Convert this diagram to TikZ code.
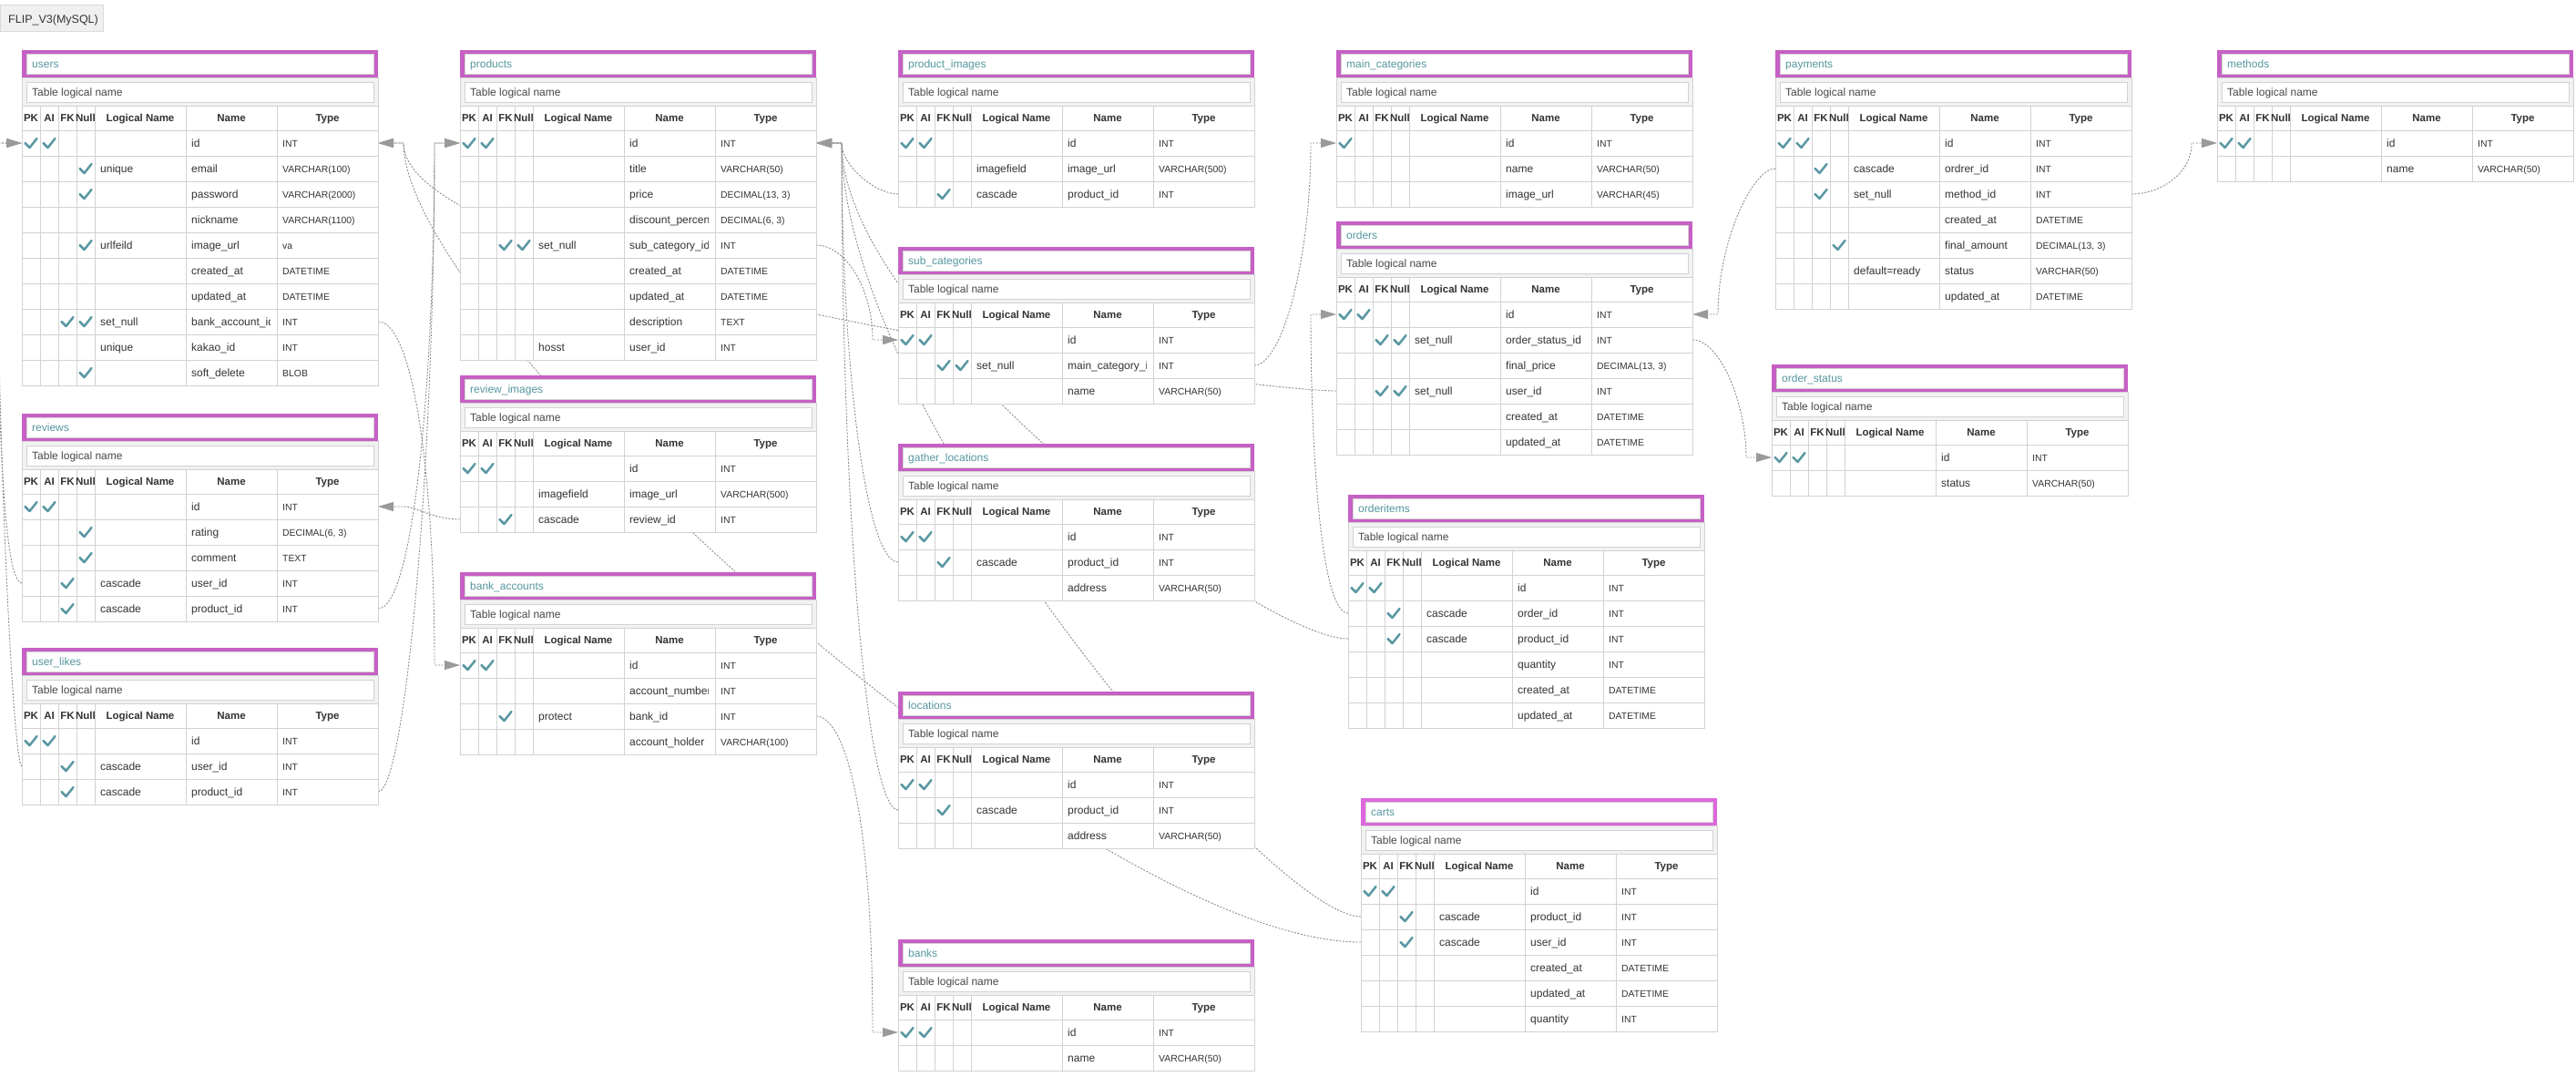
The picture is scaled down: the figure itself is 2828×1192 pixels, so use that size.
\documentclass[tikz,border=0pt]{standalone}
\usepackage{fontspec}
\setmainfont{Liberation Sans}
\usetikzlibrary{arrows.meta,backgrounds}
\definecolor{headpurple}{HTML}{C660C4}
\definecolor{cartpurple}{HTML}{DC68DC}
\definecolor{titleteal}{HTML}{5596A0}
\definecolor{tickteal}{HTML}{5A98A3}
\definecolor{gridgray}{HTML}{D2D2D2}
\definecolor{bandgray}{HTML}{F2F2F2}
\definecolor{inkgray}{HTML}{333333}
\definecolor{linkgray}{HTML}{8C8C8C}
\definecolor{tipgray}{HTML}{9A9A9A}
\tikzset{gridline/.style={draw=gridgray,line width=0.8pt},
    titletext/.style={anchor=base west,inner sep=0,text=titleteal,font=\fontsize{12}{14}\selectfont},
    bandtext/.style={anchor=base west,inner sep=0,text=black!72,font=\fontsize{12}{14}\selectfont},
    headtext/.style={anchor=base,inner sep=0,text=inkgray,font=\fontsize{11.5}{14}\selectfont\bfseries},
    celltext/.style={anchor=base west,inner sep=0,text=inkgray,font=\fontsize{12}{14}\selectfont},
    typetext/.style={anchor=base west,inner sep=0,text=inkgray,font=\fontsize{10.4}{12}\selectfont},
    fklink/.style={draw=linkgray,line width=0.9pt,dash pattern=on 2pt off 1.6pt,
        -{Triangle[length=17pt,width=10pt,color=tipgray]}},
    tickmark/.pic={\draw[tickteal,line width=2.5pt,line cap=round,line join=round]
        (-6.5,0) -- (-1.5,5) -- (6.5,-5);}}

\begin{document}
\begin{tikzpicture}[x=1pt,y=-1pt]

\useasboundingbox (0,0) rectangle (2828,1192);

% #1 frame colour, #2 table name, #3 top left corner, #4 rows pk/ai/fk/null/logical/name/type
\newcommand\ertable[4][headpurple]
{
    \begin{scope}[shift={(#3)}]
    \fill[#1] (0,0) rectangle (391,30);
    \draw[gridline,fill=white] (5,4) rectangle (386,26);
    \node (#2) [titletext] at (11,19.5) {\detokenize{#2}};
    \draw[gridline,fill=bandgray] (0,30) rectangle (391,61);
    \draw[gridline,fill=white] (5,35) rectangle (386,57);
    \node (#2-band) [bandtext] at (11,50.5) {Table logical name};
    \draw[gridline,fill=white] (0,61) rectangle (391,88);
    \foreach \cx in {20,40,60,80,180,280}
        \draw[gridline] (\cx,61) -- (\cx,88);
    \foreach \hx/\hlab in {10/PK,30/AI,50/FK,70/Null,130/Logical Name,230/Name,335.5/Type}
        \node[headtext] at (\hx,78.5) {\hlab};
    \foreach \pkc/\aic/\fkc/\nlc/\lgn/\nmn/\tyn [count=\rowno] in {#4}
    {
        \pgfmathsetmacro\ya{60+28*\rowno}
        \pgfmathsetmacro\yb{\ya+28}
        \pgfmathsetmacro\yc{\ya+14}
        \draw[gridline,fill=white] (0,\ya) rectangle (391,\yb);
        \foreach \cx in {20,40,60,80,180,280}
            \draw[gridline] (\cx,\ya) -- (\cx,\yb);
        \ifnum\pkc=1 \pic at (10,\yc) {tickmark}; \fi
        \ifnum\aic=1 \pic at (30,\yc) {tickmark}; \fi
        \ifnum\fkc=1 \pic at (50,\yc) {tickmark}; \fi
        \ifnum\nlc=1 \pic at (70,\yc) {tickmark}; \fi
        \node[celltext] at (86,\yc+4.5) {\lgn};
        \begin{scope}
            \clip (180,\ya) rectangle (272,\yb);
            \node[celltext] at (186,\yc+4.5) {\nmn};
        \end{scope}
        \node[typetext] at (286,\yc+4.5) {\tyn};
        \coordinate (#2-\rowno-w) at (0,\yc);
        \coordinate (#2-\rowno-e) at (391,\yc);
    }
    \end{scope}
}

\draw[draw=black!15,fill=black!6] (0,5) rectangle (113,34);
\node (diagramtag) [anchor=base west,inner sep=0,text=inkgray,font=\fontsize{12.5}{14}\selectfont] at (9,25) {FLIP\_V3(MySQL)};

\ertable{users}{24,55}{1/1/0/0//id/INT,
    0/0/0/1/unique/email/VARCHAR(100),
    0/0/0/1//password/VARCHAR(2000),
    0/0/0/0//nickname/VARCHAR(1100),
    0/0/0/1/urlfeild/image\_url/va,
    0/0/0/0//created\_at/DATETIME,
    0/0/0/0//updated\_at/DATETIME,
    0/0/1/1/set\_null/bank\_account\_id/INT,
    0/0/0/0/unique/kakao\_id/INT,
    0/0/0/1//soft\_delete/BLOB}
\ertable{reviews}{24,454}{1/1/0/0//id/INT,
    0/0/0/1//rating/{DECIMAL(6, 3)},
    0/0/0/1//comment/TEXT,
    0/0/1/0/cascade/user\_id/INT,
    0/0/1/0/cascade/product\_id/INT}
\ertable{user_likes}{24,711}{1/1/0/0//id/INT,
    0/0/1/0/cascade/user\_id/INT,
    0/0/1/0/cascade/product\_id/INT}

\ertable{products}{505,55}{1/1/0/0//id/INT,
    0/0/0/0//title/VARCHAR(50),
    0/0/0/0//price/{DECIMAL(13, 3)},
    0/0/0/0//discount\_percent/{DECIMAL(6, 3)},
    0/0/1/1/set\_null/sub\_category\_id/INT,
    0/0/0/0//created\_at/DATETIME,
    0/0/0/0//updated\_at/DATETIME,
    0/0/0/0//description/TEXT,
    0/0/0/0/hosst/user\_id/INT}
\ertable{review_images}{505,412}{1/1/0/0//id/INT,
    0/0/0/0/imagefield/image\_url/VARCHAR(500),
    0/0/1/0/cascade/review\_id/INT}
\ertable{bank_accounts}{505,628}{1/1/0/0//id/INT,
    0/0/0/0//account\_number/INT,
    0/0/1/0/protect/bank\_id/INT,
    0/0/0/0//account\_holder/VARCHAR(100)}

\ertable{product_images}{986,55}{1/1/0/0//id/INT,
    0/0/0/0/imagefield/image\_url/VARCHAR(500),
    0/0/1/0/cascade/product\_id/INT}
\ertable{sub_categories}{986,271}{1/1/0/0//id/INT,
    0/0/1/1/set\_null/main\_category\_id/INT,
    0/0/0/0//name/VARCHAR(50)}
\ertable{gather_locations}{986,487}{1/1/0/0//id/INT,
    0/0/1/0/cascade/product\_id/INT,
    0/0/0/0//address/VARCHAR(50)}
\ertable{locations}{986,759}{1/1/0/0//id/INT,
    0/0/1/0/cascade/product\_id/INT,
    0/0/0/0//address/VARCHAR(50)}
\ertable{banks}{986,1031}{1/1/0/0//id/INT,
    0/0/0/0//name/VARCHAR(50)}

\ertable{main_categories}{1467,55}{1/0/0/0//id/INT,
    0/0/0/0//name/VARCHAR(50),
    0/0/0/0//image\_url/VARCHAR(45)}
\ertable{orders}{1467,243}{1/1/0/0//id/INT,
    0/0/1/1/set\_null/order\_status\_id/INT,
    0/0/0/0//final\_price/{DECIMAL(13, 3)},
    0/0/1/1/set\_null/user\_id/INT,
    0/0/0/0//created\_at/DATETIME,
    0/0/0/0//updated\_at/DATETIME}
\ertable{orderitems}{1480,543}{1/1/0/0//id/INT,
    0/0/1/0/cascade/order\_id/INT,
    0/0/1/0/cascade/product\_id/INT,
    0/0/0/0//quantity/INT,
    0/0/0/0//created\_at/DATETIME,
    0/0/0/0//updated\_at/DATETIME}
\ertable[cartpurple]{carts}{1494,876}{1/1/0/0//id/INT,
    0/0/1/0/cascade/product\_id/INT,
    0/0/1/0/cascade/user\_id/INT,
    0/0/0/0//created\_at/DATETIME,
    0/0/0/0//updated\_at/DATETIME,
    0/0/0/0//quantity/INT}

\ertable{payments}{1949,55}{1/1/0/0//id/INT,
    0/0/1/0/cascade/ordrer\_id/INT,
    0/0/1/0/set\_null/method\_id/INT,
    0/0/0/0//created\_at/DATETIME,
    0/0/0/1//final\_amount/{DECIMAL(13, 3)},
    0/0/0/0/default=ready/status/VARCHAR(50),
    0/0/0/0//updated\_at/DATETIME}
\ertable{methods}{2434,55}{1/1/0/0//id/INT,
    0/0/0/0//name/VARCHAR(50)}
\ertable{order_status}{1945,400}{1/1/0/0//id/INT,
    0/0/0/0//status/VARCHAR(50)}

\begin{scope}[on background layer]
\fill[white] (0,0) rectangle (2828,1192);

% to users.id
\draw[fklink] (reviews-4-w) .. controls +(-25,0) and +(0,200) .. ([xshift=-28pt]users-1-w) -- (users-1-w);
\draw[fklink] (user_likes-2-w) .. controls +(-10,0) and +(0,300) .. ([xshift=-28pt]users-1-w) -- (users-1-w);
\draw[fklink] (orders-4-w) .. controls +(-100,0) and +(0,150) .. ([xshift=28pt]users-1-e) -- (users-1-e);
\draw[fklink] (carts-3-w) .. controls +(-300,0) and +(0,200) .. ([xshift=28pt]users-1-e) -- (users-1-e);

% to products.id
\draw[fklink] (reviews-5-e) .. controls +(40,0) and +(0,250) .. ([xshift=-28pt]products-1-w) -- (products-1-w);
\draw[fklink] (user_likes-3-e) .. controls +(30,0) and +(0,350) .. ([xshift=-28pt]products-1-w) -- (products-1-w);
\draw[fklink] (product_images-3-w) .. controls +(-25,0) and +(0,25) .. ([xshift=28pt]products-1-e) -- (products-1-e);
\draw[fklink] (gather_locations-2-w) .. controls +(-35,0) and +(0,250) .. ([xshift=28pt]products-1-e) -- (products-1-e);
\draw[fklink] (locations-2-w) .. controls +(-35,0) and +(0,400) .. ([xshift=28pt]products-1-e) -- (products-1-e);
\draw[fklink] (orderitems-3-w) .. controls +(-100,0) and +(0,200) .. ([xshift=28pt]products-1-e) -- (products-1-e);
\draw[fklink] (carts-2-w) .. controls +(-100,0) and +(0,300) .. ([xshift=28pt]products-1-e) -- (products-1-e);

\draw[fklink] (review_images-3-w) .. controls +(-30,0) and +(15,0) .. ([xshift=28pt]reviews-1-e) -- (reviews-1-e);
\draw[fklink] (users-8-e) .. controls +(40,0) and +(0,-200) .. ([xshift=-28pt]bank_accounts-1-w) -- (bank_accounts-1-w);
\draw[fklink] (products-5-e) .. controls +(30,0) and +(0,-60) .. ([xshift=-28pt]sub_categories-1-w) -- (sub_categories-1-w);
\draw[fklink] (bank_accounts-3-e) .. controls +(30,0) and +(0,-250) .. ([xshift=-28pt]banks-1-w) -- (banks-1-w);
\draw[fklink] (sub_categories-2-e) .. controls +(30,0) and +(0,130) .. ([xshift=-28pt]main_categories-1-w) -- (main_categories-1-w);
\draw[fklink] (orderitems-2-w) .. controls +(-30,0) and +(0,150) .. ([xshift=-28pt]orders-1-w) -- (orders-1-w);
\draw[fklink] (payments-2-w) .. controls +(-25,0) and +(0,-80) .. ([xshift=28pt]orders-1-e) -- (orders-1-e);
\draw[fklink] (payments-3-e) .. controls +(30,0) and +(0,35) .. ([xshift=-28pt]methods-1-w) -- (methods-1-w);
\draw[fklink] (orders-2-e) .. controls +(30,0) and +(0,-60) .. ([xshift=-28pt]order_status-1-w) -- (order_status-1-w);
\end{scope}

\end{tikzpicture}
\end{document}
